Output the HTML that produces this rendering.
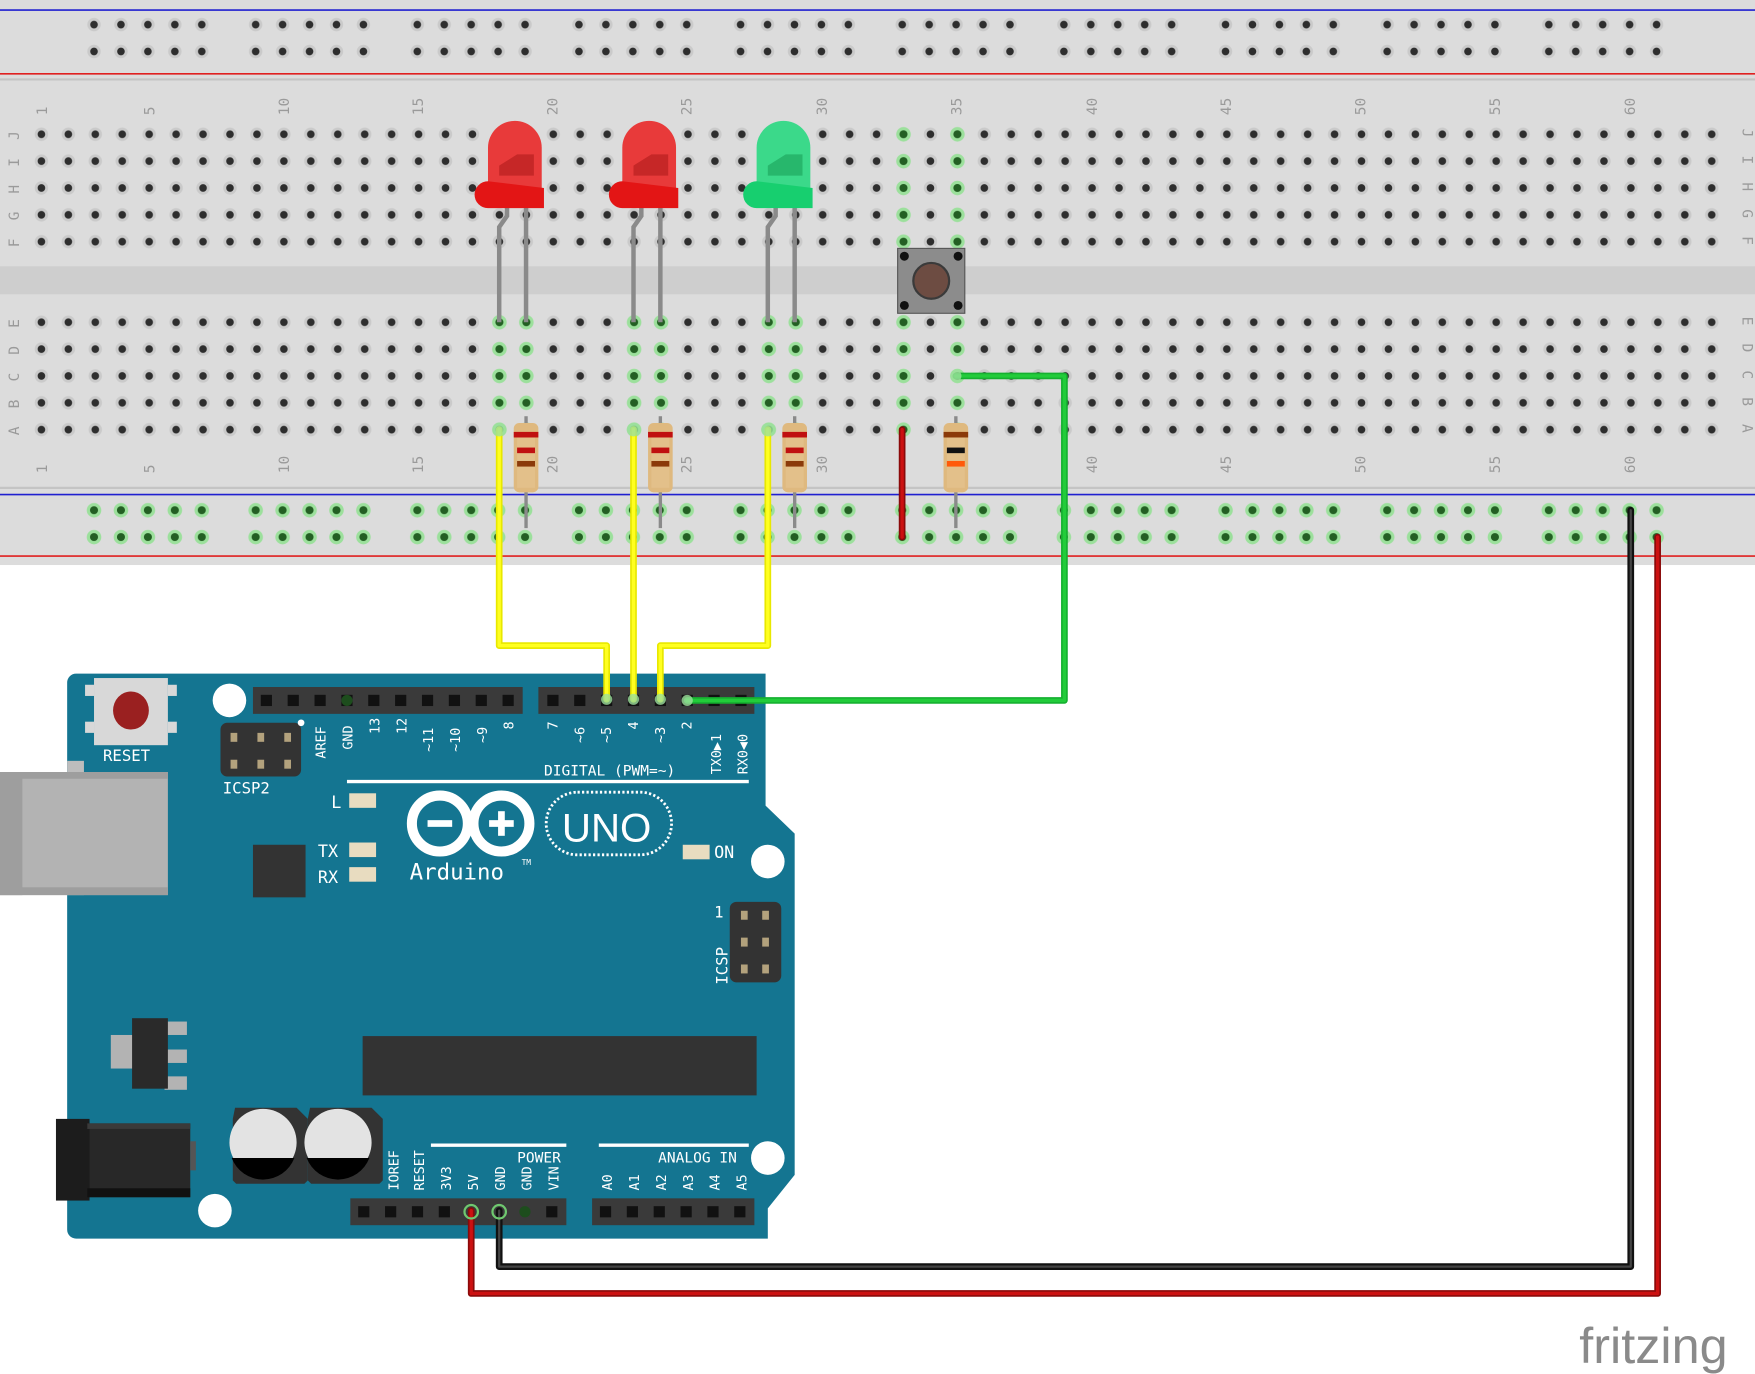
<!DOCTYPE html>
<html><head><meta charset="utf-8"><style>
html,body{margin:0;padding:0;background:#fff;width:1755px;height:1374px;overflow:hidden}
svg{display:block}
text{font-family:"DejaVu Sans Mono","Liberation Mono",monospace}
</style></head><body>
<svg width="1755" height="1374" viewBox="0 0 1568 1228" preserveAspectRatio="none" xmlns="http://www.w3.org/2000/svg">
<defs>
<pattern id="h" x="25" y="108" width="24.07" height="24" patternUnits="userSpaceOnUse">
<circle cx="12" cy="12" r="6" fill="#cacaca"/><circle cx="12" cy="12" r="3.4" fill="#2e2e2e"/></pattern>
<pattern id="g" x="25" y="108" width="24.07" height="24" patternUnits="userSpaceOnUse">
<circle cx="12" cy="12" r="6.5" fill="#9ce09c"/><circle cx="12" cy="12" r="3.6" fill="#235f23"/></pattern>
<pattern id="rh" x="72" y="10" width="144.42" height="24" patternUnits="userSpaceOnUse">
<g fill="#cacaca"><circle cx="12" cy="12" r="6"/><circle cx="36.07" cy="12" r="6"/><circle cx="60.14" cy="12" r="6"/><circle cx="84.21" cy="12" r="6"/><circle cx="108.28" cy="12" r="6"/></g>
<g fill="#2e2e2e"><circle cx="12" cy="12" r="3.4"/><circle cx="36.07" cy="12" r="3.4"/><circle cx="60.14" cy="12" r="3.4"/><circle cx="84.21" cy="12" r="3.4"/><circle cx="108.28" cy="12" r="3.4"/></g></pattern>
<pattern id="rg" x="72" y="444" width="144.42" height="24" patternUnits="userSpaceOnUse">
<g fill="#9ce09c"><circle cx="12" cy="12" r="6.5"/><circle cx="36.07" cy="12" r="6.5"/><circle cx="60.14" cy="12" r="6.5"/><circle cx="84.21" cy="12" r="6.5"/><circle cx="108.28" cy="12" r="6.5"/></g>
<g fill="#235f23"><circle cx="12" cy="12" r="3.6"/><circle cx="36.07" cy="12" r="3.6"/><circle cx="60.14" cy="12" r="3.6"/><circle cx="84.21" cy="12" r="3.6"/><circle cx="108.28" cy="12" r="3.6"/></g></pattern>
<g id="res"><rect x="-1.5" y="-12" width="3" height="100" fill="#8a8a8a"/>
<rect x="-11" y="-6" width="22" height="62" rx="5" fill="#dfb97f"/><rect x="-8" y="4" width="16" height="48" fill="#e3c08a"/></g>
</defs>
<rect x="0" y="0" width="1568" height="505" fill="#dcdcdc"/>
<line x1="0" y1="9" x2="1568" y2="9" stroke="#2020d0" stroke-width="1.5"/>
<line x1="0" y1="66" x2="1568" y2="66" stroke="#e02020" stroke-width="1.5"/>
<line x1="0" y1="71" x2="1568" y2="71" stroke="#c4c4c4" stroke-width="2"/>
<line x1="0" y1="436" x2="1568" y2="436" stroke="#c4c4c4" stroke-width="2"/>
<line x1="0" y1="442" x2="1568" y2="442" stroke="#2020d0" stroke-width="1.5"/>
<line x1="0" y1="497" x2="1568" y2="497" stroke="#e02020" stroke-width="1.5"/>
<rect x="0" y="238" width="1568" height="25" fill="#cecece"/>
<rect x="72" y="10" width="1444" height="48" fill="url(#rh)"/>
<rect x="72" y="444" width="1444" height="48" fill="url(#rg)"/>
<rect x="25" y="108" width="1517" height="120" fill="url(#h)"/>
<rect x="25" y="276" width="1517" height="120" fill="url(#h)"/>
<rect x="434" y="276" width="48" height="120" fill="url(#g)"/>
<rect x="554" y="276" width="48" height="120" fill="url(#g)"/>
<rect x="674" y="276" width="48" height="120" fill="url(#g)"/>
<rect x="794" y="276" width="24" height="120" fill="url(#g)"/>
<rect x="842" y="276" width="24" height="120" fill="url(#g)"/>
<rect x="794" y="108" width="24" height="120" fill="url(#g)"/>
<rect x="842" y="108" width="24" height="120" fill="url(#g)"/>
<g font-size="13" fill="#9a9a9a">
<text transform="translate(42,103) rotate(-90)">1</text><text transform="translate(138,103) rotate(-90)">5</text>
<text transform="translate(258,103) rotate(-90)">10</text><text transform="translate(378,103) rotate(-90)">15</text>
<text transform="translate(498,103) rotate(-90)">20</text><text transform="translate(618,103) rotate(-90)">25</text>
<text transform="translate(739,103) rotate(-90)">30</text><text transform="translate(859,103) rotate(-90)">35</text>
<text transform="translate(980,103) rotate(-90)">40</text><text transform="translate(1100,103) rotate(-90)">45</text>
<text transform="translate(1220,103) rotate(-90)">50</text><text transform="translate(1340,103) rotate(-90)">55</text>
<text transform="translate(1461,103) rotate(-90)">60</text>
<text transform="translate(42,423) rotate(-90)">1</text><text transform="translate(138,423) rotate(-90)">5</text>
<text transform="translate(258,423) rotate(-90)">10</text><text transform="translate(378,423) rotate(-90)">15</text>
<text transform="translate(498,423) rotate(-90)">20</text><text transform="translate(618,423) rotate(-90)">25</text>
<text transform="translate(739,423) rotate(-90)">30</text><text transform="translate(859,423) rotate(-90)">35</text>
<text transform="translate(980,423) rotate(-90)">40</text><text transform="translate(1100,423) rotate(-90)">45</text>
<text transform="translate(1220,423) rotate(-90)">50</text><text transform="translate(1340,423) rotate(-90)">55</text>
<text transform="translate(1461,423) rotate(-90)">60</text>
<text transform="translate(17,125) rotate(-90)">J</text><text transform="translate(17,149) rotate(-90)">I</text><text transform="translate(17,173) rotate(-90)">H</text><text transform="translate(17,197) rotate(-90)">G</text><text transform="translate(17,221) rotate(-90)">F</text>
<text transform="translate(17,293) rotate(-90)">E</text><text transform="translate(17,317) rotate(-90)">D</text><text transform="translate(17,341) rotate(-90)">C</text><text transform="translate(17,365) rotate(-90)">B</text><text transform="translate(17,389) rotate(-90)">A</text>
<text transform="translate(1557,115) rotate(90)">J</text><text transform="translate(1557,139) rotate(90)">I</text><text transform="translate(1557,163) rotate(90)">H</text><text transform="translate(1557,187) rotate(90)">G</text><text transform="translate(1557,211) rotate(90)">F</text>
<text transform="translate(1557,283) rotate(90)">E</text><text transform="translate(1557,307) rotate(90)">D</text><text transform="translate(1557,331) rotate(90)">C</text><text transform="translate(1557,355) rotate(90)">B</text><text transform="translate(1557,379) rotate(90)">A</text>
</g>
<g stroke="#8a8a8a" stroke-width="4" fill="none">
<path d="M453,185 V193 L446,203 V288"/><path d="M470,185 V288"/>
<path d="M573,185 V193 L566,203 V288"/><path d="M590,185 V288"/>
<path d="M693,185 V193 L686,203 V288"/><path d="M710,185 V288"/>
</g>
<g>
<path d="M436,180 V132 A23,23 0 0 1 484,132 V180 Z" fill="#e83a3a"/><path d="M436,162 A12,12 0 0 0 436,186 H486 V168 Z" fill="#e31515"/>
<path d="M446,157 V148 L462,138 H477 V157 Z" fill="#b82020" opacity=".7"/>
<path d="M556,180 V132 A23,23 0 0 1 604,132 V180 Z" fill="#e83a3a"/><path d="M556,162 A12,12 0 0 0 556,186 H606 V168 Z" fill="#e31515"/>
<path d="M566,157 V148 L582,138 H597 V157 Z" fill="#b82020" opacity=".7"/>
<path d="M676,180 V132 A23,23 0 0 1 724,132 V180 Z" fill="#3bd98a"/><path d="M676,162 A12,12 0 0 0 676,186 H726 V168 Z" fill="#17cf6f"/>
<path d="M686,157 V148 L702,138 H717 V157 Z" fill="#1fa860" opacity=".7"/>
</g>
<rect x="802" y="222" width="60" height="58" fill="#8c8c8c" stroke="#555" stroke-width="1"/>
<circle cx="832" cy="251" r="16" fill="#6d4c42" stroke="#3a3a3a" stroke-width="2"/>
<g fill="#111"><circle cx="808" cy="229" r="4"/><circle cx="856" cy="229" r="4"/><circle cx="808" cy="273" r="4"/><circle cx="856" cy="273" r="4"/></g>
<g transform="translate(470,384)"><use href="#res"/><rect x="-11" y="2" width="22" height="5" fill="#c01010"/><rect x="-8" y="16" width="16" height="5" fill="#c01010"/><rect x="-8" y="28" width="16" height="5" fill="#8b3a0a"/></g>
<g transform="translate(590,384)"><use href="#res"/><rect x="-11" y="2" width="22" height="5" fill="#c01010"/><rect x="-8" y="16" width="16" height="5" fill="#c01010"/><rect x="-8" y="28" width="16" height="5" fill="#8b3a0a"/></g>
<g transform="translate(710,384)"><use href="#res"/><rect x="-11" y="2" width="22" height="5" fill="#c01010"/><rect x="-8" y="16" width="16" height="5" fill="#c01010"/><rect x="-8" y="28" width="16" height="5" fill="#8b3a0a"/></g>
<g transform="translate(854,384)"><use href="#res"/><rect x="-11" y="2" width="22" height="5" fill="#8b3a0a"/><rect x="-8" y="16" width="16" height="5" fill="#111"/><rect x="-8" y="28" width="16" height="5" fill="#ff5a0a"/></g>
<path d="M68,602 H684 V720 L710,745 V1050 L686,1080 V1107 H68 A8,8 0 0 1 60,1099 V610 A8,8 0 0 1 68,602 Z" fill="#147591"/>
<circle cx="205" cy="626" r="15" fill="#fff"/><circle cx="686" cy="770" r="15" fill="#fff"/>
<circle cx="686" cy="1035" r="15" fill="#fff"/><circle cx="192" cy="1082" r="15" fill="#fff"/>
<rect x="84" y="606" width="66" height="60" fill="#d8d8d8"/><rect x="76" y="612" width="8" height="10" fill="#d8d8d8"/><rect x="76" y="645" width="8" height="10" fill="#d8d8d8"/><rect x="150" y="612" width="8" height="10" fill="#d8d8d8"/><rect x="150" y="645" width="8" height="10" fill="#d8d8d8"/>
<ellipse cx="117" cy="635" rx="16" ry="17" fill="#9a2020"/>
<text x="92" y="680" font-size="14" fill="#fff">RESET</text>
<rect x="60" y="680" width="15" height="120" fill="#bdbdbd"/>
<rect x="0" y="690" width="150" height="110" fill="#b3b3b3"/><rect x="0" y="690" width="20" height="110" fill="#9e9e9e"/><rect x="0" y="690" width="150" height="6" fill="#9e9e9e"/><rect x="0" y="793" width="150" height="7" fill="#9e9e9e"/>
<rect x="197" y="646" width="72" height="48" rx="6" fill="#333"/>
<g fill="#b3a27d"><rect x="206" y="655" width="6" height="8"/><rect x="230" y="655" width="6" height="8"/><rect x="254" y="655" width="6" height="8"/><rect x="206" y="679" width="6" height="8"/><rect x="230" y="679" width="6" height="8"/><rect x="254" y="679" width="6" height="8"/></g>
<text x="199" y="709" font-size="14" fill="#fff">ICSP2</text>
<circle cx="269" cy="646" r="3" fill="#fff"/>
<rect x="226" y="614" width="241" height="24" fill="#3a3a3a"/>
<rect x="481" y="614" width="193" height="24" fill="#3a3a3a"/>
<g fill="#111">
<rect x="233" y="621" width="10" height="10"/><rect x="257" y="621" width="10" height="10"/><rect x="281" y="621" width="10" height="10"/><rect x="305" y="621" width="10" height="10"/><rect x="329" y="621" width="10" height="10"/><rect x="353" y="621" width="10" height="10"/><rect x="377" y="621" width="10" height="10"/><rect x="401" y="621" width="10" height="10"/><rect x="425" y="621" width="10" height="10"/><rect x="449" y="621" width="10" height="10"/>
<rect x="489" y="621" width="10" height="10"/><rect x="513" y="621" width="10" height="10"/><rect x="537" y="621" width="10" height="10"/><rect x="561" y="621" width="10" height="10"/><rect x="585" y="621" width="10" height="10"/><rect x="609" y="621" width="10" height="10"/><rect x="633" y="621" width="10" height="10"/><rect x="657" y="621" width="10" height="10"/>
</g>
<circle cx="310" cy="626" r="5" fill="#1d4d1d"/>
<g font-size="12" fill="#fff">
<text transform="translate(291,678) rotate(-90)">AREF</text><text transform="translate(315,670) rotate(-90)">GND</text>
<text transform="translate(339,656) rotate(-90)">13</text><text transform="translate(363,656) rotate(-90)">12</text>
<text transform="translate(387,672) rotate(-90)">~11</text><text transform="translate(411,672) rotate(-90)">~10</text>
<text transform="translate(435,664) rotate(-90)">~9</text><text transform="translate(459,652) rotate(-90)">8</text>
<text transform="translate(498,652) rotate(-90)">7</text><text transform="translate(522,664) rotate(-90)">~6</text>
<text transform="translate(546,664) rotate(-90)">~5</text><text transform="translate(570,652) rotate(-90)">4</text>
<text transform="translate(594,664) rotate(-90)">~3</text><text transform="translate(618,652) rotate(-90)">2</text>
<text transform="translate(644,692) rotate(-90)">TX0▶1</text><text transform="translate(668,692) rotate(-90)">RX0◀0</text>
<text x="486" y="693" font-size="13">DIGITAL (PWM=~)</text>
</g>
<rect x="310" y="697" width="359" height="3" fill="#fff"/>
<g fill="#e8dcc0"><rect x="312" y="709" width="24" height="13"/><rect x="312" y="753" width="24" height="13"/><rect x="312" y="775" width="24" height="13"/><rect x="610" y="755" width="24" height="13"/></g>
<g font-size="15" fill="#fff"><text x="296" y="722">L</text><text x="284" y="766">TX</text><text x="284" y="789">RX</text><text x="638" y="767">ON</text></g>
<g fill="none" stroke="#fff" stroke-width="9"><circle cx="393" cy="736" r="25"/><circle cx="448" cy="736" r="25"/></g>
<rect x="382" y="733" width="22" height="6" fill="#fff"/><rect x="437" y="733" width="22" height="6" fill="#fff"/><rect x="445" y="725" width="6" height="22" fill="#fff"/>
<rect x="488" y="708" width="112" height="56" rx="28" fill="none" stroke="#fff" stroke-width="2.5" stroke-dasharray="2 2"/>
<text x="502" y="752" font-size="36" fill="#fff" style="font-family:'Liberation Sans',sans-serif">UNO</text>
<text x="366" y="786" font-size="20" fill="#fff">Arduino</text><text x="466" y="773" font-size="7" fill="#fff">TM</text>
<rect x="226" y="755" width="47" height="47" fill="#333"/>
<rect x="652" y="806" width="46" height="72" rx="6" fill="#333"/>
<g fill="#b3a27d"><rect x="662" y="814" width="6" height="8"/><rect x="681" y="814" width="6" height="8"/><rect x="662" y="838" width="6" height="8"/><rect x="681" y="838" width="6" height="8"/><rect x="662" y="862" width="6" height="8"/><rect x="681" y="862" width="6" height="8"/></g>
<text x="638" y="820" font-size="14" fill="#fff">1</text>
<text transform="translate(650,880) rotate(-90)" font-size="14" fill="#fff">ICSP</text>
<rect x="324" y="926" width="352" height="53" fill="#333"/>
<rect x="99" y="925" width="20" height="30" fill="#b3b3b3"/><rect x="147" y="913" width="20" height="12" fill="#b3b3b3"/><rect x="147" y="938" width="20" height="12" fill="#b3b3b3"/><rect x="147" y="962" width="20" height="12" fill="#b3b3b3"/>
<rect x="118" y="910" width="32" height="63" fill="#2a2a2a"/>
<rect x="78" y="1000" width="112" height="0" fill="none"/>
<rect x="78" y="1004" width="92" height="66" fill="#282828"/><rect x="50" y="1000" width="30" height="73" fill="#1c1c1c"/>
<rect x="78" y="1004" width="92" height="5" fill="#3a3a3a"/><rect x="78" y="1062" width="92" height="8" fill="#111"/>
<rect x="170" y="1020" width="5" height="26" fill="#555"/>
<path d="M213,990 h55 l10,10 v55 l-3,3 h-61 l-3,-3 v-55 Z" fill="#333" transform="translate(-3,0)"/>
<path d="M213,990 h55 l10,10 v55 l-3,3 h-61 l-3,-3 v-55 Z" fill="#333" transform="translate(64,0)"/>
<circle cx="235" cy="1021" r="30" fill="#e3e3e3"/><path d="M207,1035 H263 A30,30 0 0 1 207,1035 Z" fill="#000"/>
<circle cx="302" cy="1021" r="30" fill="#e3e3e3"/><path d="M274,1035 H330 A30,30 0 0 1 274,1035 Z" fill="#000"/>
<rect x="313" y="1071" width="193" height="24" fill="#3a3a3a"/><rect x="529" y="1071" width="145" height="24" fill="#3a3a3a"/>
<g fill="#111">
<rect x="320" y="1078" width="10" height="10"/><rect x="344" y="1078" width="10" height="10"/><rect x="368" y="1078" width="10" height="10"/><rect x="392" y="1078" width="10" height="10"/><rect x="488" y="1078" width="10" height="10"/>
<rect x="536" y="1078" width="10" height="10"/><rect x="560" y="1078" width="10" height="10"/><rect x="584" y="1078" width="10" height="10"/><rect x="608" y="1078" width="10" height="10"/><rect x="632" y="1078" width="10" height="10"/><rect x="656" y="1078" width="10" height="10"/>
</g>
<circle cx="469" cy="1083" r="5" fill="#1d4d1d"/>
<rect x="385" y="1022" width="121" height="3" fill="#fff"/><rect x="535" y="1022" width="134" height="3" fill="#fff"/>
<g font-size="12" fill="#fff">
<text x="462" y="1039" font-size="13">POWER</text><text x="588" y="1039" font-size="13">ANALOG IN</text>
<text transform="translate(356,1064) rotate(-90)">IOREF</text><text transform="translate(379,1064) rotate(-90)">RESET</text>
<text transform="translate(403,1064) rotate(-90)">3V3</text><text transform="translate(427,1064) rotate(-90)">5V</text>
<text transform="translate(451,1064) rotate(-90)">GND</text><text transform="translate(475,1064) rotate(-90)">GND</text>
<text transform="translate(499,1064) rotate(-90)">VIN</text>
<text transform="translate(547,1064) rotate(-90)">A0</text><text transform="translate(571,1064) rotate(-90)">A1</text><text transform="translate(595,1064) rotate(-90)">A2</text><text transform="translate(619,1064) rotate(-90)">A3</text><text transform="translate(643,1064) rotate(-90)">A4</text><text transform="translate(667,1064) rotate(-90)">A5</text>
</g>
<g fill="none" stroke-linejoin="round" stroke-linecap="round">
<path d="M446,384 V577 H542 V625" stroke="#e8e800" stroke-width="6"/>
<path d="M566,384 V625" stroke="#e8e800" stroke-width="6"/>
<path d="M686,384 V577 H590 V625" stroke="#e8e800" stroke-width="6"/>
<path d="M446,384 V577 H542 V625 M566,384 V625 M686,384 V577 H590 V625" stroke="#ffff20" stroke-width="3"/>
<path d="M854,336 H951 V626 H614" stroke="#16b030" stroke-width="6"/>
<path d="M854,336 H951 V626 H614" stroke="#22cc3a" stroke-width="3"/>
<path d="M806,384 V480" stroke="#8a0a0a" stroke-width="6"/><path d="M806,384 V480" stroke="#cc1111" stroke-width="3"/>
<path d="M1457,456 V1132 H446 V1082" stroke="#111" stroke-width="6"/><path d="M1457,456 V1132 H446 V1082" stroke="#444" stroke-width="2"/>
<path d="M1481,480 V1156 H421 V1082" stroke="#8a0a0a" stroke-width="6"/><path d="M1481,480 V1156 H421 V1082" stroke="#cc1111" stroke-width="3"/>
</g>
<g fill="none" stroke="#6fc86f" stroke-width="2"><circle cx="421" cy="1083" r="6"/><circle cx="446" cy="1083" r="6"/></g>
<g fill="#9ce09c" opacity=".8"><circle cx="446" cy="384" r="6"/><circle cx="566" cy="384" r="6"/><circle cx="686" cy="384" r="6"/><circle cx="542" cy="625" r="5"/><circle cx="566" cy="625" r="5"/><circle cx="590" cy="625" r="5"/><circle cx="614" cy="626" r="5"/><circle cx="854" cy="336" r="5"/></g>
<text x="1411" y="1218" font-size="45" fill="#8a8a8a" style="font-family:'Liberation Sans',sans-serif">fritzing</text>
</svg>
</body></html>
